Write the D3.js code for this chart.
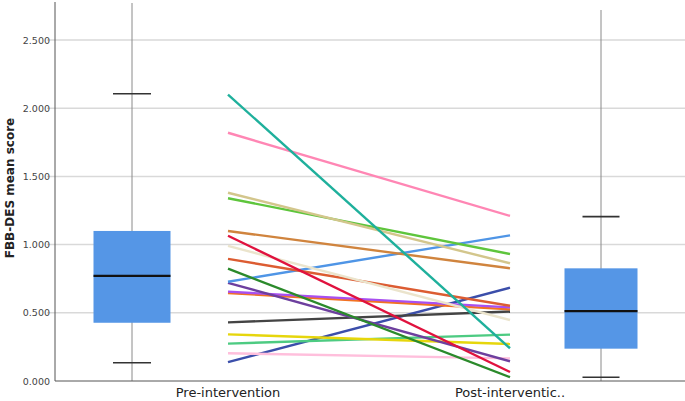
<!DOCTYPE html>
<html>
<head>
<meta charset="utf-8">
<script src="https://cdn.jsdelivr.net/npm/d3@7"></script>
<style>
  body { margin: 0; background: #fff; }
  svg { display: block; font-family: "DejaVu Sans", sans-serif; }
</style>
</head>
<body>
<div id="chart"></div>
<script>
// categories and values
var categories = ["Pre-intervention", "Post-interventic.."]
var yTicks = [0, 0.5, 1.0, 1.5, 2.0, 2.5]

// box stats: [lower whisker, q1, median, q3, upper whisker]
var preBox = [0.134, 0.427, 0.77, 1.10, 2.106]
var postBox = [0.027, 0.237, 0.513, 0.826, 1.205]

// one line per participant
var preValues  = [2.10, 1.82, 1.38, 1.34, 1.10, 1.065, 0.99, 0.895, 0.823, 0.728, 0.72, 0.655, 0.645, 0.43, 0.342, 0.274, 0.203, 0.139]
var postValues = [0.24, 1.21, 0.863, 0.931, 0.826, 0.066, 0.447, 0.552, 0.028, 1.068, 0.145, 0.54, 0.525, 0.51, 0.271, 0.34, 0.166, 0.684]

var lineColors = ["#1fb09c", "#ff86b4", "#d3c68c", "#5ec53c", "#d0843e", "#e0123e", "#ebe4cc", "#dc5c32",
                  "#2b8a2b", "#4f95e6", "#6d3f9e", "#a84ff0", "#f27222", "#444444", "#e6d60c", "#4dcb82",
                  "#ffbfdc", "#3b4eaa"]

var width = 685, height = 401
var plotLeft = 55, plotRight = 685, plotTop = 40, plotBottom = 381

var svg = d3.select("#chart").append("svg")
    .attr("width", width)
    .attr("height", height)

var y = d3.scaleLinear().domain([0, 2.5]).range([plotBottom, plotTop])
var x = d3.scalePoint().domain(categories).range([228, 510])
var boxOffset = [-96, 91]
var boxWidth = [77, 73]
var capWidth = [38, 37]

// gridlines
svg.append("g").selectAll("line")
    .data(yTicks.filter(function(d){ return d > 0 }))
    .enter().append("line")
    .attr("x1", plotLeft - 8).attr("x2", plotRight)
    .attr("y1", function(d){ return y(d) }).attr("y2", function(d){ return y(d) })
    .attr("stroke", "#d9d9d9").attr("stroke-width", 1.5)

// y axis labels
var fmt = d3.format(".3f")
svg.append("g").selectAll("text")
    .data(yTicks)
    .enter().append("text")
    .attr("x", 50)
    .attr("y", function(d){ return y(d) + 3.5 })
    .attr("text-anchor", "end")
    .attr("font-size", "9.5px")
    .attr("fill", "#444")
    .text(fmt)

// y title
svg.append("text")
    .attr("transform", "translate(14," + 188 + ")rotate(-90)")
    .attr("text-anchor", "middle")
    .attr("font-size", "12px")
    .attr("font-weight", "bold")
    .attr("fill", "#222")
    .text("FBB-DES mean score")

// boxes
var boxes = [preBox, postBox]
var vTop = [3, 10]
boxes.forEach(function(b, i){
    var cx = x(categories[i]) + boxOffset[i]
    var g = svg.append("g")
    g.append("line")
        .attr("x1", cx).attr("x2", cx)
        .attr("y1", vTop[i]).attr("y2", plotBottom)
        .attr("stroke", "#8a8a8a").attr("stroke-width", 1)
    g.append("rect")
        .attr("x", cx - boxWidth[i] / 2)
        .attr("width", boxWidth[i])
        .attr("y", y(b[3]))
        .attr("height", y(b[1]) - y(b[3]))
        .attr("fill", "#5596e6")
    g.append("line")
        .attr("x1", cx - boxWidth[i] / 2).attr("x2", cx + boxWidth[i] / 2)
        .attr("y1", y(b[2])).attr("y2", y(b[2]))
        .attr("stroke", "#111").attr("stroke-width", 2.2)
    ;[b[0], b[4]].forEach(function(v){
        g.append("line")
            .attr("x1", cx - capWidth[i] / 2).attr("x2", cx + capWidth[i] / 2)
            .attr("y1", y(v)).attr("y2", y(v))
            .attr("stroke", "#333").attr("stroke-width", 1.6)
    })
})

// participant lines
var pairs = preValues.map(function(d, i){ return {pre: d, post: postValues[i], color: lineColors[i]} })
svg.append("g").selectAll("line")
    .data(pairs.slice().reverse())
    .enter().append("line")
    .attr("x1", x(categories[0])).attr("x2", x(categories[1]))
    .attr("y1", function(d){ return y(d.pre) })
    .attr("y2", function(d){ return y(d.post) })
    .attr("stroke", function(d){ return d.color })
    .attr("stroke-width", 2.4)

// axis lines
svg.append("line")
    .attr("x1", plotLeft).attr("x2", plotLeft).attr("y1", 2).attr("y2", plotBottom)
    .attr("stroke", "#555").attr("stroke-width", 1)
svg.append("line")
    .attr("x1", plotLeft).attr("x2", plotRight).attr("y1", plotBottom).attr("y2", plotBottom)
    .attr("stroke", "#555").attr("stroke-width", 1)

// x labels
svg.append("g").selectAll("text")
    .data(categories)
    .enter().append("text")
    .attr("x", function(d){ return x(d) })
    .attr("y", 397)
    .attr("text-anchor", "middle")
    .attr("font-size", "13px")
    .attr("fill", "#222")
    .text(function(d){ return d })
</script>
</body>
</html>
